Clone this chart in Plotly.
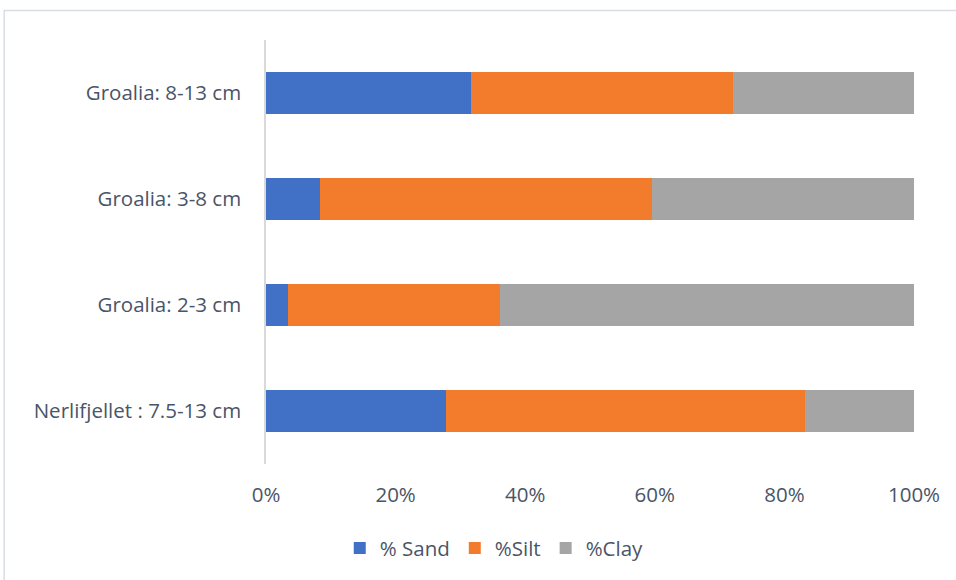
import plotly.graph_objects as go

categories = ["Nerlifjellet : 7.5-13 cm", "Groalia: 2-3 cm", "Groalia: 3-8 cm", "Groalia: 8-13 cm"]
sand = [27.8, 3.4, 8.3, 31.6]
silt = [55.4, 32.7, 51.3, 40.5]
clay = [16.8, 63.9, 40.4, 27.9]
series_names = ["% Sand", "%Silt", "%Clay"]
tick_values = [0, 20, 40, 60, 80, 100]
tick_labels = ["0%", "20%", "40%", "60%", "80%", "100%"]
colors = ["#4171C6", "#F27C2C", "#A5A5A5"]

fig = go.Figure()
for name, vals, col in zip(series_names, [sand, silt, clay], colors):
    fig.add_trace(go.Bar(y=categories, x=vals, name=name, orientation="h",
                         marker=dict(color=col, line=dict(width=0))))

txt = "#4A5568"
fnt = "Open Sans, sans-serif"
fs = 20.5
fig.update_layout(
    barmode="stack",
    bargap=0.595,
    width=956, height=580,
    margin=dict(l=266, r=42, t=40, b=116),
    paper_bgcolor="white", plot_bgcolor="white",
    font=dict(family=fnt, size=fs, color=txt),
    xaxis=dict(range=[0, 100], tickvals=tick_values, ticktext=tick_labels,
               showgrid=False, zeroline=False, showline=False, ticks="",
               ticklabelstandoff=16, tickfont=dict(family=fnt, size=fs, color=txt)),
    yaxis=dict(showgrid=False, zeroline=False, showline=True, linecolor="#d9d9d9",
               linewidth=1.5, ticks="", ticklabelstandoff=19, tickfont=dict(family=fnt, size=fs, color=txt)),
    legend=dict(orientation="h", xref="container", yref="container", x=0.517, y=0.055,
                xanchor="center", yanchor="middle", font=dict(family=fnt, size=fs, color=txt),
                traceorder="normal"),
    showlegend=True,
)
fig.add_shape(type="rect", xref="paper", yref="paper",
              x0=-0.404, x1=1.08, y0=-0.3, y1=1.0696,
              line=dict(color="#d9dde6", width=1.5), fillcolor="rgba(0,0,0,0)", layer="below")
fig.write_html("out.html")
